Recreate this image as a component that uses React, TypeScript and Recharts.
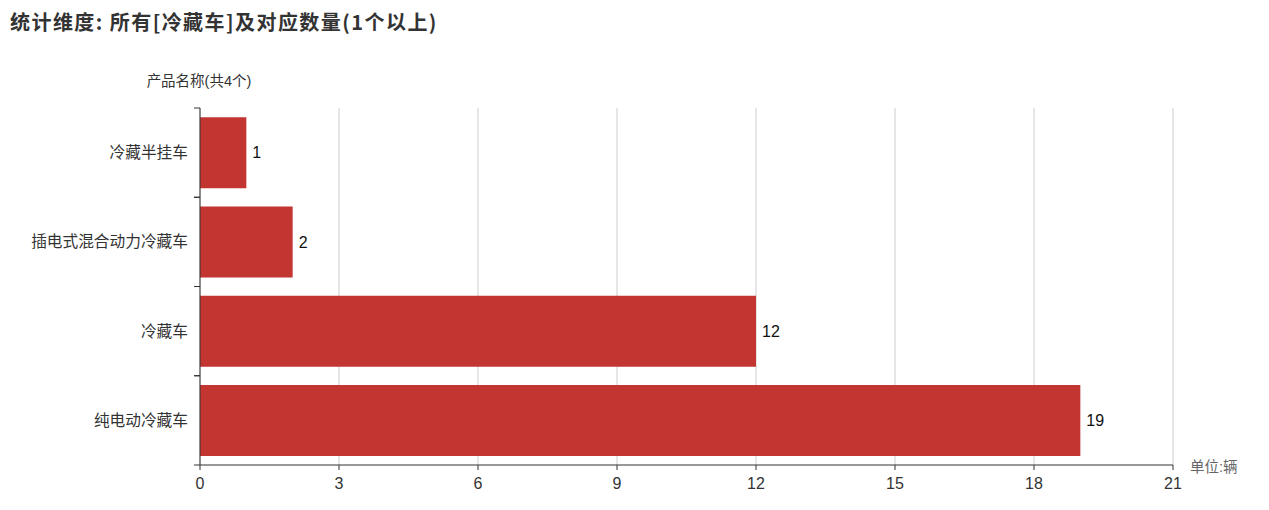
import React from 'react';
import { BarChart, Bar, XAxis, YAxis, CartesianGrid, LabelList } from 'recharts';

const categories = ['冷藏半挂车', '插电式混合动力冷藏车', '冷藏车', '纯电动冷藏车'];
const counts = [1, 2, 12, 19];
const xTicks = [0, 3, 6, 9, 12, 15, 18, 21];
const titleText = '统计维度: 所有[冷藏车]及对应数量(1个以上)';
const yAxisName = '产品名称(共4个)';
const xAxisName = '单位:辆';

const data = categories.map((name, i) => ({ name, value: counts[i] }));

const FONT = "'Liberation Sans', 'Noto Sans CJK SC', sans-serif";
const Y_TICK_SIZE = 6;
const Y_TICK_MARGIN = 6;

const CategoryTick = (props: any) => {
  const { x, y, payload } = props;
  const half = (payload && payload.offset) || 0;
  const lx1 = x + Y_TICK_MARGIN;
  const lx2 = x + Y_TICK_MARGIN + Y_TICK_SIZE;
  return (
    <g>
      <text x={x} y={y} dy="0.355em" textAnchor="end" fill="#333" fontSize={15.7}>
        {payload.value}
      </text>
      <line x1={lx1} x2={lx2} y1={y - half} y2={y - half} stroke="#333" />
      <line x1={lx1} x2={lx2} y1={y + half} y2={y + half} stroke="#333" />
    </g>
  );
};

export default function App() {
  return (
    <div style={{ position: 'absolute', left: 0, top: 0, width: 1269, height: 510, background: '#fff', fontFamily: FONT }}>
      <div style={{ position: 'absolute', left: 10, top: 7, fontSize: 20, fontWeight: 'bold', color: '#333', lineHeight: '30px', whiteSpace: 'nowrap', letterSpacing: '1.45px', fontFamily: "'Noto Sans CJK SC', sans-serif" }}>
        {titleText}
      </div>
      <BarChart
        width={1269}
        height={510}
        data={data}
        layout="vertical"
        margin={{ top: 108, right: 96, bottom: 0, left: 0 }}
        barCategoryGap="10.4%"
        style={{ fontFamily: FONT }}
      >
        <CartesianGrid horizontal={false} vertical={true} stroke="#ccc" />
        <YAxis
          type="category"
          dataKey="name"
          width={200}
          axisLine={{ stroke: '#333' }}
          tickLine={false}
          tickSize={Y_TICK_SIZE}
          tickMargin={Y_TICK_MARGIN}
          tick={<CategoryTick />}
          label={(props: any) => {
            const vb = props.viewBox || {};
            return (
              <text x={(vb.x || 0) + (vb.width || 0) - 1} y={(vb.y || 0) - 22} textAnchor="middle" fill="#333" fontSize={14.5}>
                {yAxisName}
              </text>
            );
          }}
        />
        <XAxis
          type="number"
          domain={[0, 21]}
          ticks={xTicks}
          height={45}
          axisLine={{ stroke: '#333' }}
          tickLine={{ stroke: '#333' }}
          tickSize={5}
          tickMargin={8}
          tick={{ fill: '#333', fontSize: 16 }}
          label={(props: any) => {
            const vb = props.viewBox || {};
            return (
              <text x={(vb.x || 0) + (vb.width || 0) + 17} y={(vb.y || 0) + 7} textAnchor="start" fill="#666" fontSize={14.5}>
                {xAxisName}
              </text>
            );
          }}
        />
        <Bar dataKey="value" fill="#c23531" isAnimationActive={false}>
          <LabelList dataKey="value" position="right" offset={6} fill="#111" fontSize={16} />
        </Bar>
      </BarChart>
    </div>
  );
}
